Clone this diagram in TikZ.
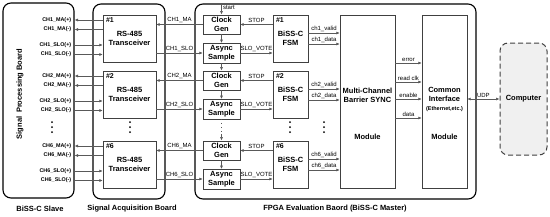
\documentclass[tikz,border=0pt]{standalone}
\usepackage{fontspec}
\setmainfont{Liberation Sans}
\usetikzlibrary{arrows.meta,positioning}

\begin{document}
\begin{tikzpicture}[
  x=1pt, y=-1pt,
  board/.style={draw, rounded corners=8pt, line width=1.1pt},
  unit/.style={draw=black!75, fill=white, align=center, inner sep=1pt, font=\fontsize{7.5}{9}\selectfont\bfseries},
  trx/.style={unit, minimum width=53, minimum height=47},
  clk/.style={unit, minimum width=37, minimum height=19.5},
  fsm/.style={unit, minimum width=35, minimum height=47},
  num/.style={label={[font=\fontsize{7}{8}\selectfont\bfseries, anchor=north west, inner sep=0pt, xshift=3pt, yshift=-3pt]north west:#1}},
  sig/.style={-{Latex[length=3.5pt,width=3pt]}, draw=black!65, line width=0.6pt},
  pin/.style={font=\fontsize{5.4}{6}\selectfont\bfseries, inner sep=3pt},
  wire/.style={font=\fontsize{6}{6}\selectfont, inner sep=1.2pt, above},
  boardname/.style={font=\fontsize{7.5}{9}\selectfont\bfseries}
]
\useasboundingbox (0,0) rectangle (550,217);

% boards
\node[board, minimum width=71, minimum height=195] (sp) at (38.5,100.5) {};
\node[boardname, rotate=90] at (20,94) {Signal\enspace Processing Board};
\node[board, minimum width=72, minimum height=195] (acq) at (129,101.5) {};
\node[board, minimum width=281, minimum height=195] (fpga) at (335.5,101.5) {};
\node[boardname] at (40,209) {BiSS-C Slave};
\node[boardname] at (132,209) {Signal Acquisition Board};
\node[boardname] at (335,209) {FPGA Evaluation Baord (BiSS-C Master)};

% sync and interface modules
\node[unit, minimum width=55, minimum height=173] (bar) at (367.5,101.5) {};
\node[unit, draw=none, fill=none] at ([yshift=6.5pt]bar.center) {Multi-Channel\\Barrier SYNC};
\node[unit, draw=none, fill=none] at ([yshift=-35.5pt]bar.center) {Module};
\node[unit, minimum width=45, minimum height=173] (ci) at (444.5,101.5) {};
\node[unit, draw=none, fill=none] at ([yshift=2pt]ci.center) {Common\\Interface\\{\fontsize{5.5}{7}\selectfont(Ethernet,etc.)}};
\node[unit, draw=none, fill=none] at ([yshift=-35.5pt]ci.center) {Module};
\node[draw=black!75, dashed, dash pattern=on 5pt off 3pt, line width=1pt, rounded corners=8pt, fill=gray!12,
  minimum width=47, minimum height=112, font=\fontsize{7.5}{9}\selectfont\bfseries] (pc) at (523.5,99) {Computer};

% channel 1
\node[trx, num=\#1] (tr1) at (129.5,38.5) {RS-485\\Transceiver};
\node[clk] (cg1) at (221.5,24.5) {Clock\\Gen};
\node[clk] (as1) at (221.5,53) {Async\\Sample};
\node[fsm, num=\#1] (fsm1) at (290.5,38.5) {BiSS-C\\FSM};
\draw[sig] ([yshift=18.5pt]tr1.west) -- ([yshift=18.5pt]tr1.west -| sp.east) node[pin, left] {CH1\_MA(+)};
\draw[sig] ([yshift=9pt]tr1.west) -- ([yshift=9pt]tr1.west -| sp.east) node[pin, left] {CH1\_MA(-)};
\draw[sig] ([yshift=-6.5pt]tr1.west -| sp.east) node[pin, left] {CH1\_SLO(+)} -- ([yshift=-6.5pt]tr1.west);
\draw[sig] ([yshift=-16pt]tr1.west -| sp.east) node[pin, left] {CH1\_SLO(-)} -- ([yshift=-16pt]tr1.west);
\draw[sig] (cg1.west) -- node[wire] {CH1\_MA} (cg1.west -| tr1.east);
\draw[sig] (as1.west -| tr1.east) -- node[wire] {CH1\_SLO} (as1.west);
\draw[sig] (cg1.east -| fsm1.west) -- node[wire] {STOP} (cg1.east);
\draw[sig] (as1.east) -- node[wire] {SLO\_VOTE} (as1.east -| fsm1.west);
\draw[sig] ([yshift=5.5pt]fsm1.east) -- node[wire] {ch1\_valid} ([yshift=5.5pt]fsm1.east -| bar.west);
\draw[sig] ([yshift=-5.5pt]fsm1.east) -- node[wire] {ch1\_data} ([yshift=-5.5pt]fsm1.east -| bar.west);

% channel 2
\node[trx, num=\#2] (tr2) at (129.5,94.5) {RS-485\\Transceiver};
\node[clk] (cg2) at (221.5,80.5) {Clock\\Gen};
\node[clk] (as2) at (221.5,109) {Async\\Sample};
\node[fsm, num=\#2] (fsm2) at (290.5,94.5) {BiSS-C\\FSM};
\draw[sig] ([yshift=18.5pt]tr2.west) -- ([yshift=18.5pt]tr2.west -| sp.east) node[pin, left] {CH2\_MA(+)};
\draw[sig] ([yshift=9pt]tr2.west) -- ([yshift=9pt]tr2.west -| sp.east) node[pin, left] {CH2\_MA(-)};
\draw[sig] ([yshift=-6.5pt]tr2.west -| sp.east) node[pin, left] {CH2\_SLO(+)} -- ([yshift=-6.5pt]tr2.west);
\draw[sig] ([yshift=-16pt]tr2.west -| sp.east) node[pin, left] {CH2\_SLO(-)} -- ([yshift=-16pt]tr2.west);
\draw[sig] (cg2.west) -- node[wire] {CH2\_MA} (cg2.west -| tr2.east);
\draw[sig] (as2.west -| tr2.east) -- node[wire] {CH2\_SLO} (as2.west);
\draw[sig] (cg2.east -| fsm2.west) -- node[wire] {STOP} (cg2.east);
\draw[sig] (as2.east) -- node[wire] {SLO\_VOTE} (as2.east -| fsm2.west);
\draw[sig] ([yshift=5.5pt]fsm2.east) -- node[wire] {ch2\_valid} ([yshift=5.5pt]fsm2.east -| bar.west);
\draw[sig] ([yshift=-5.5pt]fsm2.east) -- node[wire] {ch2\_data} ([yshift=-5.5pt]fsm2.east -| bar.west);

% channel 6
\node[trx, num=\#6] (tr6) at (129.5,164.5) {RS-485\\Transceiver};
\node[clk] (cg6) at (221.5,150.5) {Clock\\Gen};
\node[clk] (as6) at (221.5,179) {Async\\Sample};
\node[fsm, num=\#6] (fsm6) at (290.5,164.5) {BiSS-C\\FSM};
\draw[sig] ([yshift=18.5pt]tr6.west) -- ([yshift=18.5pt]tr6.west -| sp.east) node[pin, left] {CH6\_MA(+)};
\draw[sig] ([yshift=9pt]tr6.west) -- ([yshift=9pt]tr6.west -| sp.east) node[pin, left] {CH6\_MA(-)};
\draw[sig] ([yshift=-6.5pt]tr6.west -| sp.east) node[pin, left] {CH6\_SLO(+)} -- ([yshift=-6.5pt]tr6.west);
\draw[sig] ([yshift=-16pt]tr6.west -| sp.east) node[pin, left] {CH6\_SLO(-)} -- ([yshift=-16pt]tr6.west);
\draw[sig] (cg6.west) -- node[wire] {CH6\_MA} (cg6.west -| tr6.east);
\draw[sig] (as6.west -| tr6.east) -- node[wire] {CH6\_SLO} (as6.west);
\draw[sig] (cg6.east -| fsm6.west) -- node[wire] {STOP} (cg6.east);
\draw[sig] (as6.east) -- node[wire] {SLO\_VOTE} (as6.east -| fsm6.west);
\draw[sig] ([yshift=5.5pt]fsm6.east) -- node[wire] {ch6\_valid} ([yshift=5.5pt]fsm6.east -| bar.west);
\draw[sig] ([yshift=-5.5pt]fsm6.east) -- node[wire] {ch6\_data} ([yshift=-5.5pt]fsm6.east -| bar.west);

% clock chain
\coordinate (st) at (221.5,4);
\coordinate (gap) at (221.5,134);
\draw[sig] (st) -- node[wire, right, pos=0.3] {start} (cg1.north);
\draw[sig] (cg1) -- (as1);
\draw[sig] (as1) -- (cg2);
\draw[sig] (cg2) -- (as2);
\draw[black!65, line width=1.4pt, dash pattern=on 1.4pt off 2.6pt] (as2.south) -- (gap);
\draw[sig] (gap) -- (cg6);
\draw[sig] (cg6) -- (as6);

% skipped channels
\foreach \x in {52,130,290,324}
  \foreach \y in {122,127,132}
    \fill (\x,\y) circle (1pt);

% sync -> interface -> computer
\draw[sig] ([yshift=38.5pt]bar.east) -- node[wire] {error} ([yshift=38.5pt]bar.east -| ci.west);
\draw[sig] ([yshift=19.5pt]bar.east) -- node[wire] {read clk} ([yshift=19.5pt]bar.east -| ci.west);
\draw[sig] ([yshift=2.5pt]bar.east) -- node[wire] {enable} ([yshift=2.5pt]bar.east -| ci.west);
\draw[sig] ([yshift=-16.5pt]bar.east) -- node[wire] {data} ([yshift=-16.5pt]bar.east -| ci.west);
\draw[sig, {Latex[length=3.5pt,width=3pt]}-{Latex[length=3.5pt,width=3pt]}] (pc.west -| ci.east) -- node[wire] {UDP} (pc.west);

\end{tikzpicture}
\end{document}
